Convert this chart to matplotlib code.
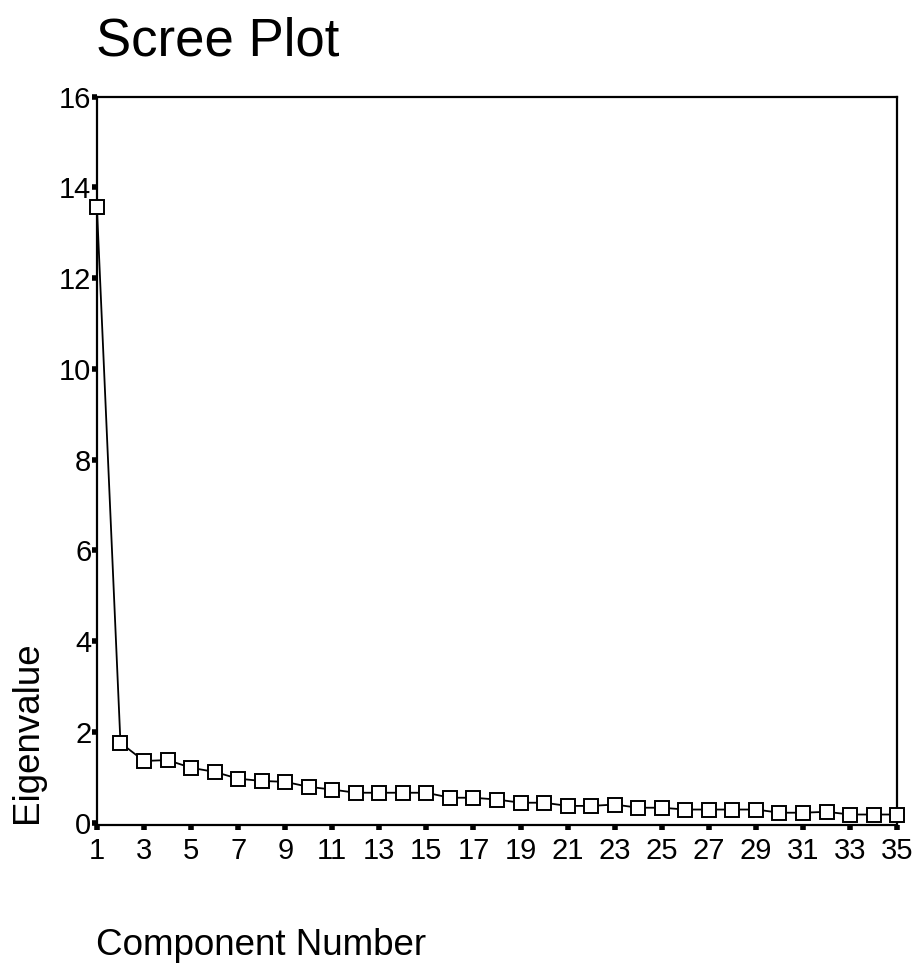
import matplotlib
matplotlib.use('Agg')
import matplotlib.pyplot as plt

# Eigenvalues
components = list(range(1, 36))
eigenvalues = [13.56, 1.76, 1.36, 1.38, 1.21, 1.12, 0.97, 0.92, 0.90, 0.79,
               0.73, 0.66, 0.66, 0.66, 0.66, 0.55, 0.55, 0.51, 0.44, 0.44,
               0.37, 0.37, 0.40, 0.33, 0.33, 0.29, 0.29, 0.29, 0.29, 0.22,
               0.22, 0.24, 0.18, 0.18, 0.18]
x_ticks = list(range(1, 36, 2))
y_ticks = list(range(0, 17, 2))

plt.rcParams['font.family'] = ['Liberation Sans', 'DejaVu Sans']

fig = plt.figure(figsize=(9.23, 9.66), dpi=100)
ax = fig.add_axes([0.105, 0.146, 0.867, 0.754])

ax.plot(components, eigenvalues, color='black', linewidth=1.3,
        marker='s', markersize=10, markerfacecolor='white',
        markeredgecolor='black', markeredgewidth=1.4, clip_on=False, zorder=3)

ax.set_xlim(1, 35)
ax.set_ylim(-0.05, 16)
ax.set_xticks(x_ticks)
ax.set_yticks(y_ticks)

for s in ax.spines.values():
    s.set_linewidth(1.6)

ax.tick_params(axis='both', direction='out', length=3.5, width=4,
               labelsize=21)
ax.tick_params(axis='x', pad=5)
ax.tick_params(axis='y', pad=0.5)

fig.text(0.104, 0.943, 'Scree Plot', fontsize=38, ha='left', va='baseline')
fig.text(0.104, 0.0114, 'Component Number', fontsize=26.5, ha='left',
         va='baseline')
fig.text(0.030, 0.148, 'Eigenvalue', fontsize=26.5, rotation=90,
         ha='center', va='bottom')

plt.savefig('out.png', dpi=100)
plt.close(fig)
